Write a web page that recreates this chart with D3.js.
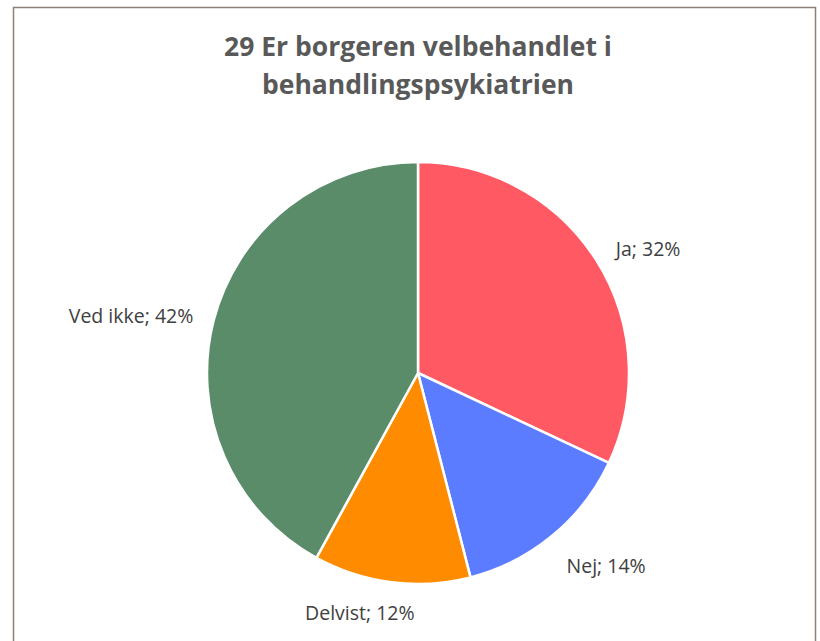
<!DOCTYPE html>
<html>
<head>
<meta charset="utf-8">
<script src="https://cdn.jsdelivr.net/npm/d3@7"></script>
<style>
  html, body { margin: 0; padding: 0; background: #fff; }
  svg { display: block; }
  text { font-family: "Open Sans", "Noto Sans", sans-serif; }
</style>
</head>
<body>
<div id="chart"></div>
<script>
// Survey answers, in drawing order (clockwise from 12 o'clock)
const categories = ["Ja", "Nej", "Delvist", "Ved ikke"];
const shares = [32, 14, 12, 42];
const sliceColors = ["#FF5A64", "#5B7CFF", "#FF8C00", "#5A8C6A"];
const titleLines = ["29 Er borgeren velbehandlet i", "behandlingspsykiatrien"];

const width = 820, height = 641;
const cx = 418, cy = 373, radius = 211;

const svg = d3.select("#chart").append("svg")
  .attr("width", width).attr("height", height);

// Chart area frame (bottom edge runs off the page)
svg.append("rect")
  .attr("x", 13.5).attr("y", 7.5)
  .attr("width", 802).attr("height", 660)
  .attr("fill", "#fff")
  .attr("stroke", "#8c8179").attr("stroke-width", 1.5);

// Title
svg.append("text")
  .attr("text-anchor", "middle")
  .attr("fill", "#595959")
  .attr("font-size", 26.5).attr("font-weight", "bold")
  .selectAll("tspan").data(titleLines).join("tspan")
  .attr("x", cx)
  .attr("y", (d, i) => 56 + i * 38)
  .text(d => d);

const data = categories.map((c, i) => ({ cat: c, value: shares[i], color: sliceColors[i] }));

const pie = d3.pie().sort(null).value(d => d.value);
const arcs = pie(data);
const arc = d3.arc().innerRadius(0).outerRadius(radius);

const g = svg.append("g").attr("transform", `translate(${cx},${cy})`);

g.selectAll("path.slice").data(arcs).join("path")
  .attr("class", "slice")
  .attr("d", arc)
  .attr("fill", d => d.data.color)
  .attr("stroke", "#fff")
  .attr("stroke-width", 2.5)
  .attr("stroke-linejoin", "round");

// Outside labels: placed along the slice's mid-angle just beyond the rim
const labelArc = d3.arc().innerRadius(radius + 22).outerRadius(radius + 22);
const labelNudge = {
  "Ja": { dx: 1, dy: 0, anchor: "start" },
  "Nej": { dx: 0, dy: 13, anchor: "start" },
  "Delvist": { dx: -29, dy: 8, anchor: "middle" },
  "Ved ikke": { dx: 1, dy: 0, anchor: "end" }
};

g.selectAll("text.label").data(arcs).join("text")
  .attr("class", "label")
  .attr("transform", d => {
    const [x, y] = labelArc.centroid(d);
    const n = labelNudge[d.data.cat];
    return `translate(${x + n.dx},${y + n.dy})`;
  })
  .attr("text-anchor", d => labelNudge[d.data.cat].anchor)
  .attr("dominant-baseline", "central")
  .attr("fill", "#404040")
  .attr("font-size", 19.5)
  .text(d => `${d.data.cat}; ${d.data.value}%`);
</script>
</body>
</html>
